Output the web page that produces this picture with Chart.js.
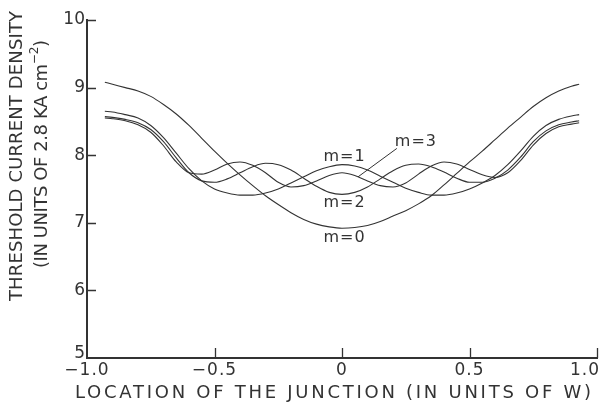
<!DOCTYPE html>
<html>
<head>
<meta charset="utf-8">
<script src="https://cdn.jsdelivr.net/npm/chart.js@4/dist/chart.umd.min.js"></script>
<style>
  html, body { margin: 0; padding: 0; background: #fff; }
</style>
</head>
<body>
<canvas id="chartBox" width="599" height="409"></canvas>
<script>
// junction location (units of W)
const positions = [-0.93, -0.9, -0.85, -0.8, -0.75, -0.7, -0.65, -0.6, -0.55, -0.5, -0.45, -0.4, -0.35, -0.3, -0.25, -0.2, -0.15, -0.1, -0.05, 0,
                   0.05, 0.1, 0.15, 0.2, 0.25, 0.3, 0.35, 0.4, 0.45, 0.5, 0.55, 0.6, 0.65, 0.7, 0.75, 0.8, 0.85, 0.9, 0.93]
// threshold current density per lateral mode
const m0 = [9.08, 9.05, 9.0, 8.95, 8.87, 8.75, 8.61, 8.44, 8.25, 8.06, 7.88, 7.71, 7.55, 7.4, 7.27, 7.15, 7.05, 6.98, 6.94, 6.92,
            6.93, 6.96, 7.02, 7.1, 7.18, 7.28, 7.4, 7.56, 7.73, 7.9, 8.06, 8.23, 8.4, 8.56, 8.72, 8.85, 8.95, 9.02, 9.05]
const m1 = [8.65, 8.64, 8.6, 8.55, 8.44, 8.26, 8.03, 7.8, 7.62, 7.5, 7.44, 7.41, 7.41, 7.44, 7.5, 7.59, 7.68, 7.77, 7.83, 7.86,
            7.84, 7.78, 7.69, 7.6, 7.51, 7.45, 7.41, 7.41, 7.44, 7.5, 7.59, 7.7, 7.86, 8.06, 8.28, 8.44, 8.53, 8.58, 8.6]
const m2 = [8.57, 8.56, 8.53, 8.48, 8.38, 8.2, 7.96, 7.74, 7.62, 7.6, 7.65, 7.74, 7.83, 7.88, 7.86, 7.78, 7.66, 7.54, 7.45, 7.42,
            7.45, 7.53, 7.65, 7.77, 7.85, 7.87, 7.83, 7.75, 7.66, 7.6, 7.6, 7.66, 7.78, 7.97, 8.2, 8.36, 8.45, 8.49, 8.51]
const m3 = [8.55, 8.54, 8.51, 8.45, 8.34, 8.14, 7.9, 7.74, 7.72, 7.78, 7.87, 7.9, 7.85, 7.74, 7.6, 7.53, 7.55, 7.62, 7.7, 7.74,
            7.7, 7.62, 7.55, 7.53, 7.59, 7.72, 7.84, 7.9, 7.87, 7.79, 7.71, 7.67, 7.74, 7.92, 8.15, 8.32, 8.42, 8.46, 8.48]

const yTicks = [5, 6, 7, 8, 9, 10]
const xTicks = [-1, -0.5, 0, 0.5, 1]
const xTickLabels = ['\u22121.0', '\u22120.5', '0', '0.5', '1.0']
const xTitle = 'LOCATION OF THE JUNCTION (IN UNITS OF W)'
const yTitle = 'THRESHOLD CURRENT DENSITY'
const yUnits = ['(IN UNITS OF 2.8 KA cm', '\u22122', ')']

// curve names placed in data units
const curveLabels = [
    { text: 'm=0', x: 0.01, y: 6.78 },
    { text: 'm=1', x: 0.01, y: 7.98 },
    { text: 'm=2', x: 0.01, y: 7.29 },
    { text: 'm=3', x: 0.29, y: 8.2 }
]
const leader = { from: [0.215, 8.1], to: [0.063, 7.68] }

const ink = '#333'
const face = '"DejaVu Sans", "Liberation Sans", sans-serif'

const series = [m0, m1, m2, m3].map(vals => ({
    data: positions.map((x, i) => ({ x, y: vals[i] })),
    borderColor: ink,
    borderWidth: 1.1,
    pointRadius: 0,
    cubicInterpolationMode: 'monotone',
    fill: false
}))

const spaced = (ctx, text, cx, cy, width) => {
    ctx.letterSpacing = '0px'
    const w = ctx.measureText(text).width
    const gap = (width - w) / (text.length - 1)
    ctx.letterSpacing = gap + 'px'
    ctx.textAlign = 'left'
    ctx.fillText(text, cx - width / 2, cy)
    ctx.letterSpacing = '0px'
}

const paperAxes = {
    id: 'paperAxes',
    afterDraw(chart) {
        const { ctx, chartArea: area, scales: { x, y } } = chart
        ctx.save()
        ctx.strokeStyle = ink
        ctx.fillStyle = ink
        ctx.lineWidth = 1.3

        // inward tick marks
        ctx.beginPath()
        yTicks.slice(1).forEach(v => {
            const py = Math.round(y.getPixelForValue(v)) + 0.5
            ctx.moveTo(area.left, py)
            ctx.lineTo(area.left + 9, py)
        })
        xTicks.slice(1).forEach(v => {
            const px = Math.round(x.getPixelForValue(v)) + 0.5
            ctx.moveTo(px, area.bottom)
            ctx.lineTo(px, area.bottom - 10)
        })
        ctx.stroke()

        // tick labels
        ctx.font = '17px ' + face
        ctx.textBaseline = 'middle'
        yTicks.forEach(v => {
            ctx.textAlign = 'right'
            ctx.letterSpacing = '0px'
            ctx.fillText(String(v), area.left - 2, y.getPixelForValue(v) - (v === 5 ? 4 : 0))
        })
        ctx.letterSpacing = '1px'
        xTicks.forEach((v, i) => {
            const w = ctx.measureText(xTickLabels[i]).width
            let cx = x.getPixelForValue(v)
            cx = Math.min(cx, chart.width - w / 2 + 1)
            ctx.textAlign = 'left'
            ctx.fillText(xTickLabels[i], cx - w / 2, 371)
        })
        ctx.letterSpacing = '0px'

        // axis titles
        ctx.font = '18px ' + face
        spaced(ctx, xTitle, 333, 393, 516)

        ctx.save()
        ctx.translate(17, 156)
        ctx.rotate(-Math.PI / 2)
        spaced(ctx, yTitle, 0, 0, 290)
        ctx.restore()

        ctx.save()
        ctx.translate(42, 154)
        ctx.rotate(-Math.PI / 2)
        const total = 228
        ctx.font = '18px ' + face
        const w1 = ctx.measureText(yUnits[0]).width
        const w3 = ctx.measureText(yUnits[2]).width
        ctx.font = '12px ' + face
        const w2 = ctx.measureText(yUnits[1]).width
        const gap = (total - w1 - w2 - w3) / (yUnits[0].length + 1)
        let pos = -total / 2
        ctx.textAlign = 'left'
        ctx.font = '18px ' + face
        ctx.letterSpacing = gap + 'px'
        ctx.fillText(yUnits[0], pos, 0)
        pos += w1 + gap * yUnits[0].length
        ctx.letterSpacing = '0px'
        ctx.font = '12px ' + face
        ctx.fillText(yUnits[1], pos, -7)
        pos += w2 + gap
        ctx.font = '18px ' + face
        ctx.fillText(yUnits[2], pos, 0)
        ctx.restore()

        // curve names and leader line
        ctx.font = '16px ' + face
        ctx.letterSpacing = '1px'
        ctx.textAlign = 'center'
        curveLabels.forEach(l => {
            ctx.fillText(l.text, x.getPixelForValue(l.x), y.getPixelForValue(l.y))
        })
        ctx.letterSpacing = '0px'
        ctx.lineWidth = 1
        ctx.beginPath()
        ctx.moveTo(x.getPixelForValue(leader.from[0]), y.getPixelForValue(leader.from[1]))
        ctx.lineTo(x.getPixelForValue(leader.to[0]), y.getPixelForValue(leader.to[1]))
        ctx.stroke()
        ctx.restore()
    }
}

new Chart(document.querySelector('#chartBox').getContext('2d'), {
    type: 'line',
    data: { datasets: series },
    options: {
        responsive: false,
        animation: false,
        devicePixelRatio: 1,
        layout: { autoPadding: false, padding: { left: 87, right: 2, top: 20, bottom: 51 } },
        plugins: { legend: { display: false }, tooltip: { enabled: false } },
        scales: {
            x: {
                type: 'linear', min: -1, max: 1,
                ticks: { display: false },
                grid: { display: false, drawTicks: false },
                border: { display: true, color: ink, width: 2 }
            },
            y: {
                min: 5, max: 10,
                ticks: { display: false },
                grid: { display: false, drawTicks: false },
                border: { display: true, color: ink, width: 2 }
            }
        }
    },
    plugins: [paperAxes]
})
</script>
</body>
</html>
